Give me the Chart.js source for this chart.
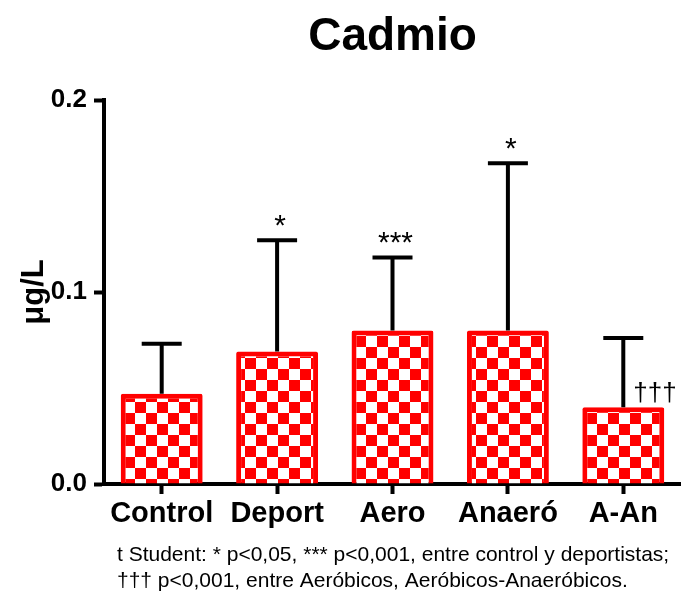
<!DOCTYPE html>
<html>
<head>
<meta charset="utf-8">
<script src="https://cdn.jsdelivr.net/npm/chart.js@4"></script>
<style>
  html, body { margin: 0; padding: 0; background: #fff; }
  canvas { display: block; }
</style>
</head>
<body>
<canvas id="chart" width="681" height="592"></canvas>
<script>
// Cadmium concentration by group (µg/L): mean bar with upper SD whisker
const categories = ['Control', 'Deport', 'Aero', 'Anaeró', 'A-An'];
const means = [0.047, 0.069, 0.080, 0.080, 0.040];
const sdUpper = [0.026, 0.058, 0.038, 0.087, 0.036];
const marksAbove = ['', '*', '***', '*', ''];
const marksSide = ['', '', '', '', '†††'];
const yTickValues = [0.0, 0.1, 0.2];
const titleText = 'Cadmio';
const yAxisTitle = 'μg/L';
const footnoteLines = [
  't Student: * p<0,05, *** p<0,001, entre control y deportistas;',
  '††† p<0,001, entre Aeróbicos, Aeróbicos-Anaeróbicos.'
];

const FONT = "'Liberation Sans', Arial, Helvetica, sans-serif";
const RED = '#ff0000';

const canvas = document.getElementById('chart');
const ctx = canvas.getContext('2d');

// red/white checkerboard fill for the bars
function checkerPattern() {
  const tile = document.createElement('canvas');
  tile.width = 22; tile.height = 22;
  const g = tile.getContext('2d');
  g.fillStyle = '#ffffff';
  g.fillRect(0, 0, 22, 22);
  g.fillStyle = RED;
  g.fillRect(0, 0, 11, 11);
  g.fillRect(11, 11, 11, 11);
  const p = ctx.createPattern(tile, 'repeat');
  p.setTransform(new DOMMatrix().translateSelf(3, 6));
  return p;
}

// whiskers (upper SD), significance marks and the footnote
const errorBars = {
  id: 'errorBars',
  afterDatasetsDraw(chart) {
    const c = chart.ctx;
    const xs = chart.scales.x, ys = chart.scales.y;
    c.save();
    c.strokeStyle = '#000';
    c.lineWidth = 4;
    c.lineCap = 'butt';
    means.forEach((m, i) => {
      const x = xs.getPixelForValue(i);
      const y0 = ys.getPixelForValue(m);
      const y1 = ys.getPixelForValue(m + sdUpper[i]);
      c.beginPath();
      c.moveTo(x, y0);
      c.lineTo(x, y1);
      c.moveTo(x - 20, y1);
      c.lineTo(x + 20, y1);
      c.stroke();
      c.fillStyle = '#000';
      if (marksAbove[i]) {
        c.font = '30px ' + FONT;
        c.textAlign = 'center';
        c.textBaseline = 'alphabetic';
        c.fillText(marksAbove[i], x + 3, y1 - 5);
      }
      if (marksSide[i]) {
        c.font = '26px ' + FONT;
        c.textAlign = 'left';
        c.textBaseline = 'alphabetic';
        c.fillText(marksSide[i], x + 10, y0 - 6);
      }
    });
    c.restore();
  },
  afterDraw(chart) {
    const c = chart.ctx;
    c.save();
    c.fillStyle = '#000';
    c.font = '21px ' + FONT;
    c.textAlign = 'left';
    c.textBaseline = 'alphabetic';
    footnoteLines.forEach((t, k) => c.fillText(t, 117, 561 + k * 26));
    c.restore();
  }
};

new Chart(ctx, {
  type: 'bar',
  data: {
    labels: categories,
    datasets: [{
      data: means,
      backgroundColor: checkerPattern(),
      borderColor: RED,
      borderWidth: 5,
      borderRadius: 2,
      barPercentage: 0.71,
      categoryPercentage: 1
    }]
  },
  options: {
    responsive: false,
    animation: false,
    devicePixelRatio: 1,
    layout: { padding: { left: 0, right: 0, top: 0, bottom: 0 } },
    plugins: {
      legend: { display: false },
      tooltip: { enabled: false },
      title: {
        display: true,
        text: titleText,
        fullSize: false,
        color: '#000',
        font: { family: FONT, size: 46, weight: 'bold', lineHeight: 1.2 },
        padding: { top: 10, bottom: 34.8 }
      }
    },
    scales: {
      x: {
        offset: true,
        grid: { display: true, drawOnChartArea: false, drawTicks: true, tickLength: 10, tickWidth: 4, tickColor: '#000', offset: false },
        border: { display: true, color: '#000', width: 4 },
        ticks: { color: '#000', font: { family: FONT, size: 29, weight: 'bold' }, padding: 3, maxRotation: 0, autoSkip: false },
        afterFit(s) { s.height = 108; }
      },
      y: {
        min: 0,
        max: 0.2,
        afterBuildTicks(s) { s.ticks = yTickValues.map(v => ({ value: v })); },
        grid: { display: true, drawOnChartArea: false, drawTicks: true, tickLength: 10, tickWidth: 4, tickColor: '#000' },
        border: { display: true, color: '#000', width: 4 },
        ticks: { color: '#000', font: { family: FONT, size: 26, weight: 'bold' }, padding: 7, callback: v => Number(v).toFixed(1) },
        title: { display: true, text: yAxisTitle, color: '#000', font: { family: FONT, size: 31, weight: 'bold' }, padding: { top: 16, bottom: 0 } },
        afterFit(s) { s.width = 104; }
      }
    }
  },
  plugins: [errorBars]
});
</script>
</body>
</html>
